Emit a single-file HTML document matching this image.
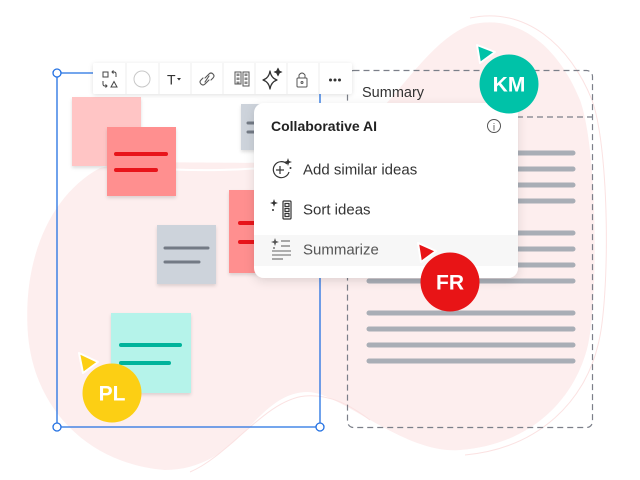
<!DOCTYPE html>
<html>
<head>
<meta charset="utf-8">
<style>
  html,body{margin:0;padding:0;background:#fff;}
  body{width:640px;height:480px;overflow:hidden;}
  svg{display:block;}
  text{font-family:"Liberation Sans",sans-serif;}
</style>
</head>
<body>
<svg width="640" height="480" viewBox="0 0 640 480" xmlns="http://www.w3.org/2000/svg">
  <defs>
    <filter id="sh" x="-10%" y="-10%" width="130%" height="140%">
      <feDropShadow dx="0" dy="2" stdDeviation="1.6" flood-color="#000" flood-opacity="0.13"/>
    </filter>
    <filter id="card" x="-10%" y="-10%" width="120%" height="130%">
      <feDropShadow dx="0" dy="3" stdDeviation="5" flood-color="#000" flood-opacity="0.12"/>
    </filter>
    <filter id="tb" x="-10%" y="-30%" width="120%" height="170%">
      <feDropShadow dx="0" dy="1" stdDeviation="2.5" flood-color="#000" flood-opacity="0.12"/>
    </filter>
  </defs>

  <!-- background blob -->
  <path d="M308,392 C282,392 266,410 246,430 C226,452 200,470 165,470 C95,465 35,415 28,335 C22,260 50,195 100,168 C140,158 220,165 290,162 C330,160 345,140 365,125 C400,95 430,40 470,25 C520,12 560,50 580,100 C598,150 598,300 588,345 C575,400 530,445 460,450 C405,455 340,392 308,392 Z" fill="#fdeeee"/>
  <!-- faint outline curves -->
  <path d="M470,18 C525,6 570,45 592,100 C610,150 610,300 598,345 C585,400 540,448 465,455" fill="none" stroke="#fbe2e2" stroke-width="1"/>
  <path d="M190,472 C230,455 265,400 305,396 C330,394 350,405 370,420" fill="none" stroke="#fbe2e2" stroke-width="1"/>
  <path d="M150,168 C200,172 240,170 290,166" fill="none" stroke="#ffffff" stroke-width="2"/>

  <!-- blue selection frame -->
  <g stroke="#2270e2" stroke-width="1.3" fill="none">
    <line x1="57" y1="73" x2="320" y2="73"/>
    <line x1="57" y1="73" x2="57" y2="427"/>
    <line x1="57" y1="427" x2="320" y2="427"/>
    <line x1="320" y1="73" x2="320" y2="427"/>
  </g>
  <g fill="#fff" stroke="#2270e2" stroke-width="1.3">
    <circle cx="57" cy="73" r="4"/>
    <circle cx="57" cy="427" r="4"/>
    <circle cx="320" cy="427" r="4"/>
  </g>

  <!-- sticky notes -->
  <g filter="url(#sh)">
    <rect x="72" y="97" width="69" height="69" fill="#ffc5c5"/>
  </g>
  <g filter="url(#sh)">
    <rect x="107" y="127" width="69" height="69" fill="#ff8f8f"/>
  </g>
  <g stroke="#e8141a" stroke-width="4" stroke-linecap="round">
    <line x1="116" y1="154" x2="166" y2="154"/>
    <line x1="116" y1="170" x2="156" y2="170"/>
  </g>

  <g filter="url(#sh)">
    <rect x="241" y="104" width="50" height="46" fill="#cdd3db"/>
  </g>
  <g stroke="#737a85" stroke-width="3" stroke-linecap="round">
    <line x1="248" y1="123" x2="285" y2="123"/>
    <line x1="248" y1="132" x2="280" y2="132"/>
  </g>

  <g filter="url(#sh)">
    <rect x="229" y="190" width="60" height="83" fill="#ff8f8f"/>
  </g>
  <g stroke="#e8141a" stroke-width="4" stroke-linecap="round">
    <line x1="240" y1="223" x2="285" y2="223"/>
    <line x1="240" y1="242" x2="285" y2="242"/>
  </g>

  <g filter="url(#sh)">
    <rect x="157" y="225" width="59" height="59" fill="#cdd3db"/>
  </g>
  <g stroke="#737a85" stroke-width="3" stroke-linecap="round">
    <line x1="165" y1="248" x2="208" y2="248"/>
    <line x1="165" y1="262" x2="199" y2="262"/>
  </g>

  <g filter="url(#sh)">
    <rect x="111" y="313" width="80" height="80" fill="#b5f3ea"/>
  </g>
  <g stroke="#00b39b" stroke-width="4" stroke-linecap="round">
    <line x1="121" y1="345" x2="180" y2="345"/>
    <line x1="121" y1="363" x2="169" y2="363"/>
  </g>

  <!-- summary dashed frame -->
  <rect x="347.5" y="70.5" width="245" height="357" rx="6" fill="none" stroke="#7b7f89" stroke-width="1.2" stroke-dasharray="6 4"/>
  <line x1="347" y1="117" x2="592" y2="117" stroke="#7b7f89" stroke-width="1.2" stroke-dasharray="6 4"/>
  <text x="362" y="97" font-size="14.5" fill="#333">Summary</text>

  <g stroke="#a9aeb6" stroke-width="5" stroke-linecap="round">
    <line x1="369" y1="153" x2="573" y2="153"/>
    <line x1="369" y1="169" x2="573" y2="169"/>
    <line x1="369" y1="185" x2="573" y2="185"/>
    <line x1="369" y1="201" x2="573" y2="201"/>
    <line x1="369" y1="233" x2="573" y2="233"/>
    <line x1="369" y1="249" x2="573" y2="249"/>
    <line x1="369" y1="265" x2="573" y2="265"/>
    <line x1="369" y1="281" x2="573" y2="281"/>
    <line x1="369" y1="313" x2="573" y2="313"/>
    <line x1="369" y1="329" x2="573" y2="329"/>
    <line x1="369" y1="345" x2="573" y2="345"/>
    <line x1="369" y1="361" x2="573" y2="361"/>
  </g>

  <!-- toolbar -->
  <g filter="url(#tb)">
    <rect x="93" y="63" width="259" height="31" rx="2" fill="#fff"/>
  </g>
  <g stroke="#eeeeee" stroke-width="1">
    <line x1="126" y1="63" x2="126" y2="94"/>
    <line x1="159" y1="63" x2="159" y2="94"/>
    <line x1="191" y1="63" x2="191" y2="94"/>
    <line x1="223" y1="63" x2="223" y2="94"/>
    <line x1="255" y1="63" x2="255" y2="94"/>
    <line x1="287" y1="63" x2="287" y2="94"/>
    <line x1="319" y1="63" x2="319" y2="94"/>
  </g>
  <!-- shape icon -->
  <g stroke="#444" stroke-width="1" fill="none">
    <rect x="103" y="72" width="5" height="5"/>
    <path d="M116,77 L116,74 Q116,72 114,72 L112,72 M113.5,70.5 L112,72 L113.5,73.5"/>
    <path d="M103,81 L103,84 Q103,86 105,86 L107,86 M105.5,84.5 L107,86 L105.5,87.5"/>
    <path d="M111,87 L114,81.5 L117,87 Z"/>
  </g>
  <!-- circle -->
  <circle cx="142" cy="79" r="8" fill="#fff" stroke="#c8c8c8" stroke-width="1"/>
  <!-- T -->
  <text x="167" y="84.5" font-size="14" fill="#333">T</text>
  <path d="M177,78 L181,78 L179,80.5 Z" fill="#333"/>
  <!-- link -->
  <g stroke="#555" stroke-width="1.1" fill="none" stroke-linecap="round">
    <path d="M205,78 L209,74 Q211,72 213,74 Q215,76 213,78 L211,80"/>
    <path d="M209,80 L205,84 Q203,86 201,84 Q199,82 201,80 L203,78"/>
    <line x1="205" y1="82" x2="209" y2="76"/>
  </g>
  <!-- columns icon -->
  <g stroke="#555" stroke-width="1" fill="none">
    <rect x="235" y="72" width="6" height="12"/>
    <rect x="243" y="72" width="6" height="14"/>
    <rect x="236.5" y="73.5" width="3" height="2.5" fill="#888" stroke="none"/>
    <rect x="236.5" y="77.5" width="3" height="2.5" fill="#888" stroke="none"/>
    <rect x="236.5" y="81.5" width="3" height="2" fill="#888" stroke="none"/>
    <rect x="244.5" y="73.5" width="3" height="2.5" fill="#888" stroke="none"/>
    <rect x="244.5" y="77.5" width="3" height="2.5" fill="#888" stroke="none"/>
    <rect x="244.5" y="81.5" width="3" height="2.5" fill="#888" stroke="none"/>
  </g>
  <!-- sparkle -->
  <g stroke="#333" stroke-width="1.2" fill="none" stroke-linejoin="round">
    <path d="M270,71 Q271,78 277,80 Q271,82 270,89 Q269,82 263,80 Q269,78 270,71 Z"/>
    <path d="M278,68 L279.5,71 L282,72 L279.5,73 L278,76 L276.5,73 L274,72 L276.5,71 Z" fill="#333" stroke-width="0.6"/>
  </g>
  <!-- lock -->
  <g stroke="#555" stroke-width="1" fill="none">
    <rect x="297" y="78" width="10" height="9" rx="1"/>
    <path d="M299,78 L299,75 Q302,71 305,75 L305,78"/>
    <circle cx="302" cy="82.5" r="1"/>
  </g>
  <!-- dots -->
  <g fill="#333">
    <circle cx="330.5" cy="80" r="1.5"/>
    <circle cx="335" cy="80" r="1.5"/>
    <circle cx="339.5" cy="80" r="1.5"/>
  </g>

  <!-- AI menu -->
  <g filter="url(#card)">
    <rect x="254" y="103" width="264" height="175" rx="10" fill="#fff"/>
  </g>
  <rect x="254" y="235" width="264" height="31" fill="#f7f7f7"/>
  <text x="271" y="131" font-size="14" font-weight="bold" fill="#222">Collaborative AI</text>
  <circle cx="494" cy="126" r="6.5" fill="none" stroke="#555" stroke-width="1"/>
  <text x="494" y="130.5" font-size="10" fill="#555" text-anchor="middle">i</text>

  <!-- add similar icon -->
  <g stroke="#333" stroke-width="1.2" fill="none">
    <path d="M287,164 A8,8 0 1 0 289,172"/>
    <line x1="276" y1="170" x2="284" y2="170"/>
    <line x1="280" y1="166" x2="280" y2="174"/>
  </g>
  <path d="M288,158 L289,161 L292,162 L289,163 L288,166 L287,163 L284,162 L287,161 Z" fill="#333"/>
  <circle cx="290.5" cy="168" r="1" fill="#333"/>
  <text x="303" y="174.5" font-size="15" fill="#333">Add similar ideas</text>

  <!-- sort icon -->
  <path d="M274,199 L275,202 L278,203 L275,204 L274,207 L273,204 L270,203 L273,202 Z" fill="#333"/>
  <circle cx="273" cy="210" r="1" fill="#333"/>
  <g stroke="#333" stroke-width="1.2" fill="none">
    <rect x="283" y="201" width="8" height="18" rx="1"/>
    <rect x="285" y="203.5" width="4" height="3"/>
    <rect x="285" y="208.5" width="4" height="3"/>
    <rect x="285" y="213.5" width="4" height="3"/>
  </g>
  <text x="303" y="214.5" font-size="15" fill="#333">Sort ideas</text>

  <!-- summarize icon -->
  <path d="M275,238 L276,241 L279,242 L276,243 L275,246 L274,243 L271,242 L274,241 Z" fill="#555"/>
  <circle cx="274" cy="248" r="0.9" fill="#555"/>
  <g stroke="#666" stroke-width="1.1">
    <line x1="281" y1="241" x2="290" y2="241"/>
    <line x1="281" y1="246" x2="290" y2="246"/>
    <line x1="272" y1="251" x2="291" y2="251"/>
    <line x1="272" y1="255" x2="291" y2="255"/>
    <line x1="272" y1="259" x2="283" y2="259"/>
  </g>
  <text x="303" y="254.5" font-size="15" fill="#555">Summarize</text>

  <!-- KM avatar -->
  <path d="M477,45 L495,52 L480,63 Z" fill="#00c2a8" stroke="#fff" stroke-width="2" stroke-linejoin="round"/>
  <circle cx="509" cy="84" r="29.5" fill="#00c2a8"/>
  <text x="509" y="91.5" font-size="21" font-weight="bold" fill="#fff" text-anchor="middle">KM</text>

  <!-- FR avatar -->
  <path d="M418,243 L436,251 L421,262 Z" fill="#e81416" stroke="#fff" stroke-width="2" stroke-linejoin="round"/>
  <circle cx="450" cy="282" r="29.5" fill="#e81416"/>
  <text x="450" y="289.5" font-size="21" font-weight="bold" fill="#fff" text-anchor="middle">FR</text>

  <!-- PL avatar -->
  <path d="M79,353 L98,362 L83,373 Z" fill="#fccf14" stroke="#fff" stroke-width="2" stroke-linejoin="round"/>
  <circle cx="112" cy="393" r="29.5" fill="#fccf14"/>
  <text x="112" y="400.5" font-size="21" font-weight="bold" fill="#fff" text-anchor="middle">PL</text>
</svg>
</body>
</html>
